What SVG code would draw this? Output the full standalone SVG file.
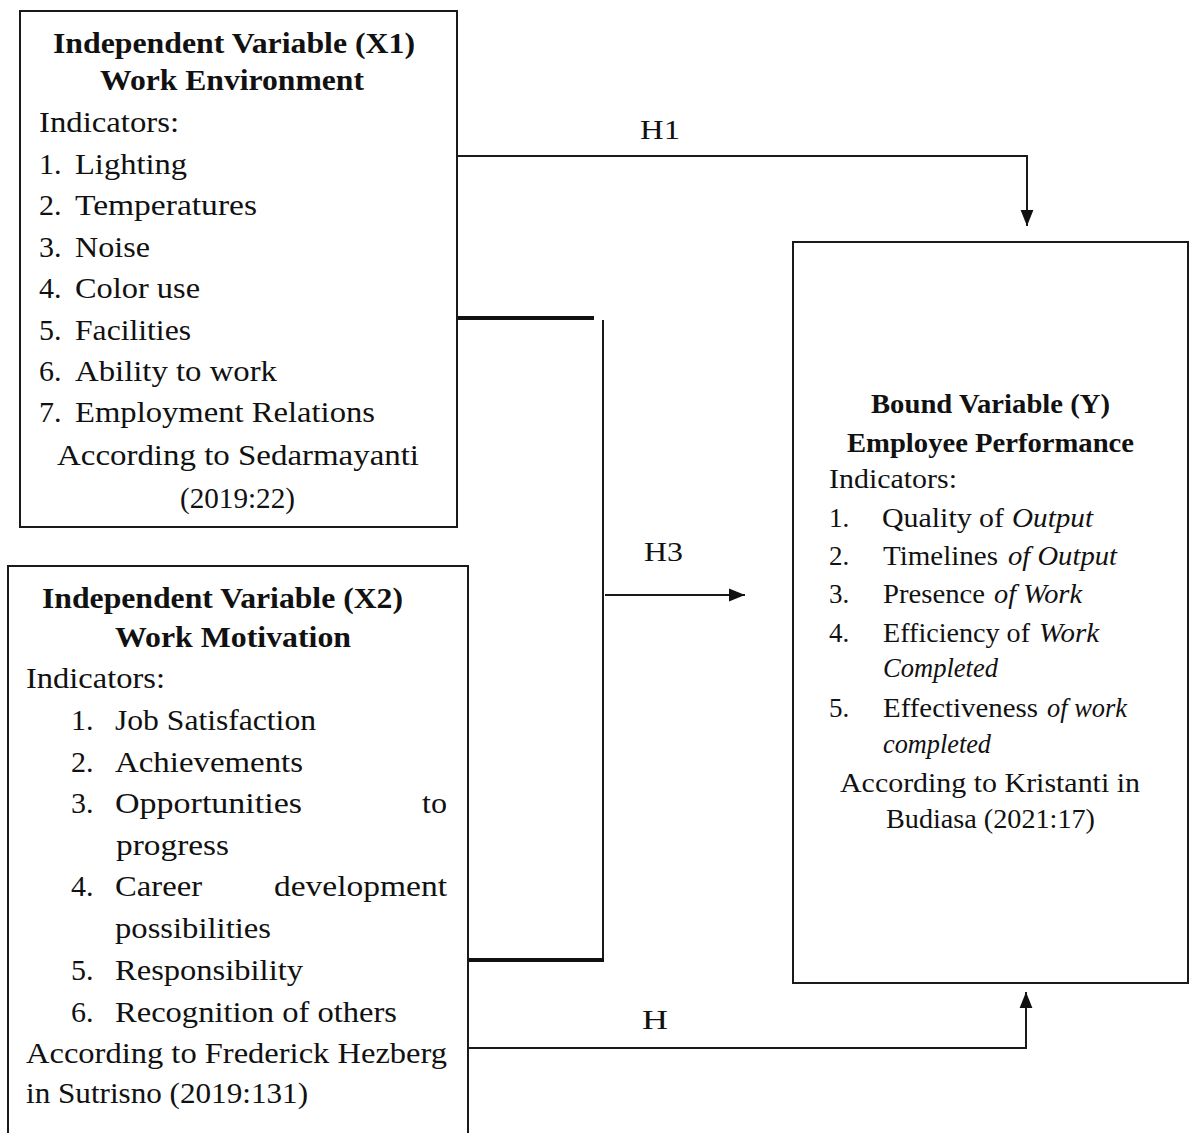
<svg xmlns="http://www.w3.org/2000/svg" width="1192" height="1133" viewBox="0 0 1192 1133">
<style>
.box{fill:#fff;stroke:#1a1a1a;stroke-width:2}
.t{font-family:"Liberation Serif",serif;font-size:30px;fill:#111}
.b{font-weight:bold}
.s{font-family:"Liberation Serif",serif;font-size:27px;fill:#111}
.i{font-style:italic}
.c{stroke:#1a1a1a;stroke-width:2;fill:none}
.k{stroke:#111;stroke-width:4;fill:none}
.lbl{font-family:"Liberation Serif",serif;font-size:28px;fill:#111}
</style>
<defs>
<marker id="ah" viewBox="0 0 10 10" refX="10" refY="5" markerWidth="8" markerHeight="8" markerUnits="userSpaceOnUse" orient="auto">
<path d="M0,0 L10,5 L0,10 z" fill="#111"/>
</marker>
<marker id="ah2" viewBox="0 0 10 10" refX="10" refY="5" markerWidth="16" markerHeight="16" markerUnits="userSpaceOnUse" orient="auto">
<path d="M0,1 L10,5 L0,9 z" fill="#111"/>
</marker>
</defs>
<rect width="1192" height="1133" fill="#fff"/>

<g id="connectors">
<path class="c" d="M456,156 H1027 V226" marker-end="url(#ah2)"/>
<path class="k" d="M458,318 H594"/>
<path class="c" d="M603,320 V962"/>
<path class="k" d="M468,960 H604"/>
<path class="c" d="M605,595 H745" marker-end="url(#ah2)"/>
<path class="c" d="M468,1048 H1026 V992" marker-end="url(#ah2)"/>
<text class="lbl" x="640" y="139" textLength="40" lengthAdjust="spacingAndGlyphs">H1</text>
<text class="lbl" x="644" y="561" textLength="39" lengthAdjust="spacingAndGlyphs">H3</text>
<text class="lbl" x="642" y="1029" textLength="26" lengthAdjust="spacingAndGlyphs">H</text>
</g>

<g id="x1">
<rect class="box" x="20" y="11" width="437" height="516"/>
<text class="t b" x="53" y="53" textLength="362" lengthAdjust="spacingAndGlyphs">Independent Variable (X1)</text>
<text class="t b" x="100" y="90" textLength="264" lengthAdjust="spacingAndGlyphs">Work Environment</text>
<text class="t" x="39" y="132" textLength="140" lengthAdjust="spacingAndGlyphs">Indicators:</text>
<text class="t" x="39" y="174">1.</text>
<text class="t" x="75" y="174" textLength="112" lengthAdjust="spacingAndGlyphs">Lighting</text>
<text class="t" x="39" y="215">2.</text>
<text class="t" x="75" y="215" textLength="182" lengthAdjust="spacingAndGlyphs">Temperatures</text>
<text class="t" x="39" y="257">3.</text>
<text class="t" x="75" y="257" textLength="75" lengthAdjust="spacingAndGlyphs">Noise</text>
<text class="t" x="39" y="298">4.</text>
<text class="t" x="75" y="298" textLength="125" lengthAdjust="spacingAndGlyphs">Color use</text>
<text class="t" x="39" y="340">5.</text>
<text class="t" x="75" y="340" textLength="116" lengthAdjust="spacingAndGlyphs">Facilities</text>
<text class="t" x="39" y="381">6.</text>
<text class="t" x="75" y="381" textLength="202" lengthAdjust="spacingAndGlyphs">Ability to work</text>
<text class="t" x="39" y="422">7.</text>
<text class="t" x="75" y="422" textLength="300" lengthAdjust="spacingAndGlyphs">Employment Relations</text>
<text class="t" x="57" y="465" textLength="362" lengthAdjust="spacingAndGlyphs">According to Sedarmayanti</text>
<text class="t" x="180" y="508" textLength="115" lengthAdjust="spacingAndGlyphs">(2019:22)</text>
</g>

<g id="x2">
<rect class="box" x="8" y="566" width="460" height="590"/>
<text class="t b" x="42" y="608" textLength="361" lengthAdjust="spacingAndGlyphs">Independent Variable (X2)</text>
<text class="t b" x="115" y="647" textLength="236" lengthAdjust="spacingAndGlyphs">Work Motivation</text>
<text class="t" x="26" y="688" textLength="139" lengthAdjust="spacingAndGlyphs">Indicators:</text>
<text class="t" x="71" y="730">1.</text>
<text class="t" x="115" y="730" textLength="201" lengthAdjust="spacingAndGlyphs">Job Satisfaction</text>
<text class="t" x="71" y="772">2.</text>
<text class="t" x="115" y="772" textLength="188" lengthAdjust="spacingAndGlyphs">Achievements</text>
<text class="t" x="71" y="813">3.</text>
<text class="t" x="115" y="813" textLength="187" lengthAdjust="spacingAndGlyphs">Opportunities</text>
<text class="t" x="422" y="813" textLength="25" lengthAdjust="spacingAndGlyphs">to</text>
<text class="t" x="116" y="855" textLength="113" lengthAdjust="spacingAndGlyphs">progress</text>
<text class="t" x="71" y="896">4.</text>
<text class="t" x="115" y="896" textLength="87" lengthAdjust="spacingAndGlyphs">Career</text>
<text class="t" x="274" y="896" textLength="173" lengthAdjust="spacingAndGlyphs">development</text>
<text class="t" x="115" y="938" textLength="156" lengthAdjust="spacingAndGlyphs">possibilities</text>
<text class="t" x="71" y="980">5.</text>
<text class="t" x="115" y="980" textLength="188" lengthAdjust="spacingAndGlyphs">Responsibility</text>
<text class="t" x="71" y="1022">6.</text>
<text class="t" x="115" y="1022" textLength="282" lengthAdjust="spacingAndGlyphs">Recognition of others</text>
<text class="t" x="26" y="1063" textLength="421" lengthAdjust="spacingAndGlyphs">According to Frederick Hezberg</text>
<text class="t" x="26" y="1103" textLength="282" lengthAdjust="spacingAndGlyphs">in Sutrisno (2019:131)</text>
</g>

<g id="y">
<rect class="box" x="793" y="242" width="395" height="741"/>
<text class="s b" x="871" y="413" textLength="239" lengthAdjust="spacingAndGlyphs">Bound Variable (Y)</text>
<text class="s b" x="847" y="452" textLength="287" lengthAdjust="spacingAndGlyphs">Employee Performance</text>
<text class="s" x="829" y="488" textLength="128" lengthAdjust="spacingAndGlyphs">Indicators:</text>
<text class="s" x="829" y="527">1.</text>
<text class="s" x="882" y="527" textLength="122" lengthAdjust="spacingAndGlyphs">Quality of</text>
<text class="s i" x="1012" y="527" textLength="81" lengthAdjust="spacingAndGlyphs">Output</text>
<text class="s" x="829" y="565">2.</text>
<text class="s" x="883" y="565" textLength="115" lengthAdjust="spacingAndGlyphs">Timelines</text>
<text class="s i" x="1008" y="565" textLength="109" lengthAdjust="spacingAndGlyphs">of Output</text>
<text class="s" x="829" y="603">3.</text>
<text class="s" x="883" y="603" textLength="102" lengthAdjust="spacingAndGlyphs">Presence</text>
<text class="s i" x="994" y="603" textLength="88" lengthAdjust="spacingAndGlyphs">of Work</text>
<text class="s" x="829" y="642">4.</text>
<text class="s" x="883" y="642" textLength="147" lengthAdjust="spacingAndGlyphs">Efficiency of</text>
<text class="s i" x="1039" y="642" textLength="60" lengthAdjust="spacingAndGlyphs">Work</text>
<text class="s i" x="883" y="677" textLength="115" lengthAdjust="spacingAndGlyphs">Completed</text>
<text class="s" x="829" y="717">5.</text>
<text class="s" x="883" y="717" textLength="155" lengthAdjust="spacingAndGlyphs">Effectiveness</text>
<text class="s i" x="1047" y="717" textLength="80" lengthAdjust="spacingAndGlyphs">of work</text>
<text class="s i" x="883" y="753" textLength="108" lengthAdjust="spacingAndGlyphs">completed</text>
<text class="s" x="840" y="792" textLength="300" lengthAdjust="spacingAndGlyphs">According to Kristanti in</text>
<text class="s" x="886" y="828" textLength="209" lengthAdjust="spacingAndGlyphs">Budiasa (2021:17)</text>
</g>
</svg>
